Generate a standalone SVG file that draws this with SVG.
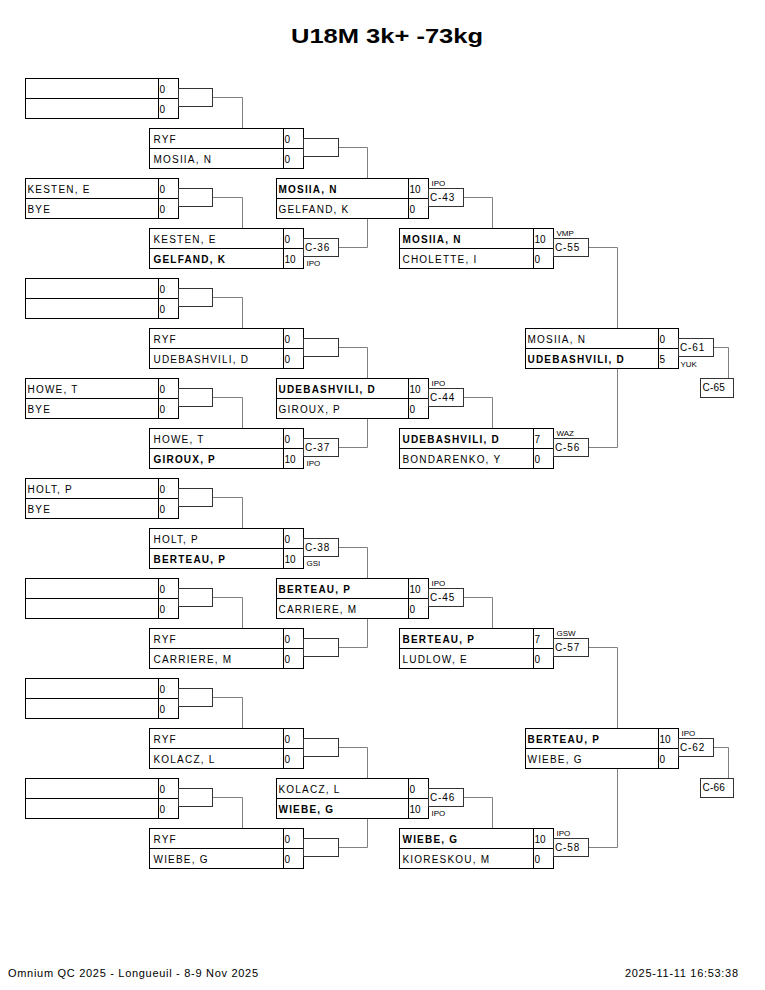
<svg xmlns="http://www.w3.org/2000/svg" width="765" height="990" viewBox="0 0 765 990">
<style>
.box{fill:#fff;stroke:#000;stroke-width:1}
.dv{stroke:#000;stroke-width:1}
.cb{fill:#fff;stroke:#333;stroke-width:1}
.conn{fill:none;stroke:#808080;stroke-width:1}
text{font-family:"Liberation Sans",Arial,sans-serif;fill:#000}
.nm{font-size:10px;letter-spacing:1.2px}
.nb{font-size:10px;letter-spacing:1.2px;font-weight:bold}
.sc{font-size:10px}
.cl{font-size:10px;letter-spacing:0.9px}
.rc{font-size:8px}
.fl{font-size:10px;letter-spacing:0.2px}
.t{transform:translate(0px,-1px)}
</style>
<rect x="0" y="0" width="765" height="990" fill="#fff"/>
<text x="291" y="43" font-size="21" font-weight="bold" textLength="192" lengthAdjust="spacingAndGlyphs">U18M 3k+ -73kg</text>
<g transform="translate(0.5 0.5)">
<g id="connectors">
<path class="conn" d="M212 97H242V128"/>
<path class="conn" d="M212 197H242V228"/>
<path class="conn" d="M212 297H242V328"/>
<path class="conn" d="M212 397H242V428"/>
<path class="conn" d="M212 497H242V528"/>
<path class="conn" d="M212 597H242V628"/>
<path class="conn" d="M212 697H242V728"/>
<path class="conn" d="M212 797H242V828"/>
<path class="conn" d="M338 147H367V178"/>
<path class="conn" d="M338 247H367V218"/>
<path class="conn" d="M338 347H367V378"/>
<path class="conn" d="M338 447H367V418"/>
<path class="conn" d="M338 547H367V578"/>
<path class="conn" d="M338 647H367V618"/>
<path class="conn" d="M338 747H367V778"/>
<path class="conn" d="M338 847H367V818"/>
<path class="conn" d="M463 197H492V228"/>
<path class="conn" d="M463 397H492V428"/>
<path class="conn" d="M463 597H492V628"/>
<path class="conn" d="M463 797H492V828"/>
<path class="conn" d="M588 247H617V328"/>
<path class="conn" d="M588 447H617V368"/>
<path class="conn" d="M588 647H617V728"/>
<path class="conn" d="M588 847H617V768"/>
<path class="conn" d="M713 347H728V378"/>
<path class="conn" d="M713 747H728V778"/>
</g>

<!-- Round 1 -->
<g id="r1m1">
<rect class="box" x="25" y="78" width="153" height="40"/><line class="dv" x1="25" y1="98" x2="178" y2="98"/><line class="dv" x1="158" y1="78" x2="158" y2="118"/>
<rect class="cb" x="178" y="88" width="34" height="18"/>
<g class="t"><text class="sc" x="159" y="93">0</text><text class="sc" x="159" y="113">0</text></g>
</g>
<g id="r1m2">
<rect class="box" x="25" y="178" width="153" height="40"/><line class="dv" x1="25" y1="198" x2="178" y2="198"/><line class="dv" x1="158" y1="178" x2="158" y2="218"/>
<rect class="cb" x="178" y="188" width="34" height="18"/>
<g class="t"><text class="nm" x="27" y="193">KESTEN, E</text><text class="nm" x="27" y="213">BYE</text>
<text class="sc" x="159" y="193">0</text><text class="sc" x="159" y="213">0</text></g>
</g>
<g id="r1m3">
<rect class="box" x="25" y="278" width="153" height="40"/><line class="dv" x1="25" y1="298" x2="178" y2="298"/><line class="dv" x1="158" y1="278" x2="158" y2="318"/>
<rect class="cb" x="178" y="288" width="34" height="18"/>
<g class="t"><text class="sc" x="159" y="293">0</text><text class="sc" x="159" y="313">0</text></g>
</g>
<g id="r1m4">
<rect class="box" x="25" y="378" width="153" height="40"/><line class="dv" x1="25" y1="398" x2="178" y2="398"/><line class="dv" x1="158" y1="378" x2="158" y2="418"/>
<rect class="cb" x="178" y="388" width="34" height="18"/>
<g class="t"><text class="nm" x="27" y="393">HOWE, T</text><text class="nm" x="27" y="413">BYE</text>
<text class="sc" x="159" y="393">0</text><text class="sc" x="159" y="413">0</text></g>
</g>
<g id="r1m5">
<rect class="box" x="25" y="478" width="153" height="40"/><line class="dv" x1="25" y1="498" x2="178" y2="498"/><line class="dv" x1="158" y1="478" x2="158" y2="518"/>
<rect class="cb" x="178" y="488" width="34" height="18"/>
<g class="t"><text class="nm" x="27" y="493">HOLT, P</text><text class="nm" x="27" y="513">BYE</text>
<text class="sc" x="159" y="493">0</text><text class="sc" x="159" y="513">0</text></g>
</g>
<g id="r1m6">
<rect class="box" x="25" y="578" width="153" height="40"/><line class="dv" x1="25" y1="598" x2="178" y2="598"/><line class="dv" x1="158" y1="578" x2="158" y2="618"/>
<rect class="cb" x="178" y="588" width="34" height="18"/>
<g class="t"><text class="sc" x="159" y="593">0</text><text class="sc" x="159" y="613">0</text></g>
</g>
<g id="r1m7">
<rect class="box" x="25" y="678" width="153" height="40"/><line class="dv" x1="25" y1="698" x2="178" y2="698"/><line class="dv" x1="158" y1="678" x2="158" y2="718"/>
<rect class="cb" x="178" y="688" width="34" height="18"/>
<g class="t"><text class="sc" x="159" y="693">0</text><text class="sc" x="159" y="713">0</text></g>
</g>
<g id="r1m8">
<rect class="box" x="25" y="778" width="153" height="40"/><line class="dv" x1="25" y1="798" x2="178" y2="798"/><line class="dv" x1="158" y1="778" x2="158" y2="818"/>
<rect class="cb" x="178" y="788" width="34" height="18"/>
<g class="t"><text class="sc" x="159" y="793">0</text><text class="sc" x="159" y="813">0</text></g>
</g>

<!-- Round 2 -->
<g id="r2m1">
<rect class="box" x="149" y="128" width="154" height="40"/><line class="dv" x1="149" y1="148" x2="303" y2="148"/><line class="dv" x1="283" y1="128" x2="283" y2="168"/>
<rect class="cb" x="303" y="138" width="35" height="18"/>
<g class="t"><text class="nm" x="153" y="143">RYF</text><text class="nm" x="153" y="163">MOSIIA, N</text>
<text class="sc" x="284" y="143">0</text><text class="sc" x="284" y="163">0</text></g>
</g>
<g id="r2m2">
<rect class="box" x="149" y="228" width="154" height="40"/><line class="dv" x1="149" y1="248" x2="303" y2="248"/><line class="dv" x1="283" y1="228" x2="283" y2="268"/>
<rect class="cb" x="303" y="238" width="35" height="18"/>
<g class="t"><text class="nm" x="153" y="243">KESTEN, E</text><text class="nb" x="153" y="263">GELFAND, K</text>
<text class="sc" x="284" y="243">0</text><text class="sc" x="284" y="263">10</text></g>
<text class="cl" x="304.5" y="250">C-36</text><text class="rc" x="306" y="265">IPO</text>
</g>
<g id="r2m3">
<rect class="box" x="149" y="328" width="154" height="40"/><line class="dv" x1="149" y1="348" x2="303" y2="348"/><line class="dv" x1="283" y1="328" x2="283" y2="368"/>
<rect class="cb" x="303" y="338" width="35" height="18"/>
<g class="t"><text class="nm" x="153" y="343">RYF</text><text class="nm" x="153" y="363">UDEBASHVILI, D</text>
<text class="sc" x="284" y="343">0</text><text class="sc" x="284" y="363">0</text></g>
</g>
<g id="r2m4">
<rect class="box" x="149" y="428" width="154" height="40"/><line class="dv" x1="149" y1="448" x2="303" y2="448"/><line class="dv" x1="283" y1="428" x2="283" y2="468"/>
<rect class="cb" x="303" y="438" width="35" height="18"/>
<g class="t"><text class="nm" x="153" y="443">HOWE, T</text><text class="nb" x="153" y="463">GIROUX, P</text>
<text class="sc" x="284" y="443">0</text><text class="sc" x="284" y="463">10</text></g>
<text class="cl" x="304.5" y="450">C-37</text><text class="rc" x="306" y="465">IPO</text>
</g>
<g id="r2m5">
<rect class="box" x="149" y="528" width="154" height="40"/><line class="dv" x1="149" y1="548" x2="303" y2="548"/><line class="dv" x1="283" y1="528" x2="283" y2="568"/>
<rect class="cb" x="303" y="538" width="35" height="18"/>
<g class="t"><text class="nm" x="153" y="543">HOLT, P</text><text class="nb" x="153" y="563">BERTEAU, P</text>
<text class="sc" x="284" y="543">0</text><text class="sc" x="284" y="563">10</text></g>
<text class="cl" x="304.5" y="550">C-38</text><text class="rc" x="306" y="565">GSI</text>
</g>
<g id="r2m6">
<rect class="box" x="149" y="628" width="154" height="40"/><line class="dv" x1="149" y1="648" x2="303" y2="648"/><line class="dv" x1="283" y1="628" x2="283" y2="668"/>
<rect class="cb" x="303" y="638" width="35" height="18"/>
<g class="t"><text class="nm" x="153" y="643">RYF</text><text class="nm" x="153" y="663">CARRIERE, M</text>
<text class="sc" x="284" y="643">0</text><text class="sc" x="284" y="663">0</text></g>
</g>
<g id="r2m7">
<rect class="box" x="149" y="728" width="154" height="40"/><line class="dv" x1="149" y1="748" x2="303" y2="748"/><line class="dv" x1="283" y1="728" x2="283" y2="768"/>
<rect class="cb" x="303" y="738" width="35" height="18"/>
<g class="t"><text class="nm" x="153" y="743">RYF</text><text class="nm" x="153" y="763">KOLACZ, L</text>
<text class="sc" x="284" y="743">0</text><text class="sc" x="284" y="763">0</text></g>
</g>
<g id="r2m8">
<rect class="box" x="149" y="828" width="154" height="40"/><line class="dv" x1="149" y1="848" x2="303" y2="848"/><line class="dv" x1="283" y1="828" x2="283" y2="868"/>
<rect class="cb" x="303" y="838" width="35" height="18"/>
<g class="t"><text class="nm" x="153" y="843">RYF</text><text class="nm" x="153" y="863">WIEBE, G</text>
<text class="sc" x="284" y="843">0</text><text class="sc" x="284" y="863">0</text></g>
</g>

<!-- Round 3 -->
<g id="r3m1">
<rect class="box" x="276" y="178" width="152" height="40"/><line class="dv" x1="276" y1="198" x2="428" y2="198"/><line class="dv" x1="408" y1="178" x2="408" y2="218"/>
<rect class="cb" x="428" y="188" width="35" height="18"/>
<g class="t"><text class="nb" x="278" y="193">MOSIIA, N</text><text class="nm" x="278" y="213">GELFAND, K</text>
<text class="sc" x="409" y="193">10</text><text class="sc" x="409" y="213">0</text></g>
<text class="cl" x="429.5" y="200">C-43</text><text class="rc" x="431" y="185">IPO</text>
</g>
<g id="r3m2">
<rect class="box" x="276" y="378" width="152" height="40"/><line class="dv" x1="276" y1="398" x2="428" y2="398"/><line class="dv" x1="408" y1="378" x2="408" y2="418"/>
<rect class="cb" x="428" y="388" width="35" height="18"/>
<g class="t"><text class="nb" x="278" y="393">UDEBASHVILI, D</text><text class="nm" x="278" y="413">GIROUX, P</text>
<text class="sc" x="409" y="393">10</text><text class="sc" x="409" y="413">0</text></g>
<text class="cl" x="429.5" y="400">C-44</text><text class="rc" x="431" y="385">IPO</text>
</g>
<g id="r3m3">
<rect class="box" x="276" y="578" width="152" height="40"/><line class="dv" x1="276" y1="598" x2="428" y2="598"/><line class="dv" x1="408" y1="578" x2="408" y2="618"/>
<rect class="cb" x="428" y="588" width="35" height="18"/>
<g class="t"><text class="nb" x="278" y="593">BERTEAU, P</text><text class="nm" x="278" y="613">CARRIERE, M</text>
<text class="sc" x="409" y="593">10</text><text class="sc" x="409" y="613">0</text></g>
<text class="cl" x="429.5" y="600">C-45</text><text class="rc" x="431" y="585">IPO</text>
</g>
<g id="r3m4">
<rect class="box" x="276" y="778" width="152" height="40"/><line class="dv" x1="276" y1="798" x2="428" y2="798"/><line class="dv" x1="408" y1="778" x2="408" y2="818"/>
<rect class="cb" x="428" y="788" width="35" height="18"/>
<g class="t"><text class="nm" x="278" y="793">KOLACZ, L</text><text class="nb" x="278" y="813">WIEBE, G</text>
<text class="sc" x="409" y="793">0</text><text class="sc" x="409" y="813">10</text></g>
<text class="cl" x="429.5" y="800">C-46</text><text class="rc" x="431" y="815">IPO</text>
</g>

<!-- Round 4 -->
<g id="r4m1">
<rect class="box" x="399" y="228" width="154" height="40"/><line class="dv" x1="399" y1="248" x2="553" y2="248"/><line class="dv" x1="533" y1="228" x2="533" y2="268"/>
<rect class="cb" x="553" y="238" width="35" height="18"/>
<g class="t"><text class="nb" x="402" y="243">MOSIIA, N</text><text class="nm" x="402" y="263">CHOLETTE, I</text>
<text class="sc" x="534" y="243">10</text><text class="sc" x="534" y="263">0</text></g>
<text class="cl" x="554.5" y="250">C-55</text><text class="rc" x="556" y="235">VMP</text>
</g>
<g id="r4m2">
<rect class="box" x="399" y="428" width="154" height="40"/><line class="dv" x1="399" y1="448" x2="553" y2="448"/><line class="dv" x1="533" y1="428" x2="533" y2="468"/>
<rect class="cb" x="553" y="438" width="35" height="18"/>
<g class="t"><text class="nb" x="402" y="443">UDEBASHVILI, D</text><text class="nm" x="402" y="463">BONDARENKO, Y</text>
<text class="sc" x="534" y="443">7</text><text class="sc" x="534" y="463">0</text></g>
<text class="cl" x="554.5" y="450">C-56</text><text class="rc" x="556" y="435">WAZ</text>
</g>
<g id="r4m3">
<rect class="box" x="399" y="628" width="154" height="40"/><line class="dv" x1="399" y1="648" x2="553" y2="648"/><line class="dv" x1="533" y1="628" x2="533" y2="668"/>
<rect class="cb" x="553" y="638" width="35" height="18"/>
<g class="t"><text class="nb" x="402" y="643">BERTEAU, P</text><text class="nm" x="402" y="663">LUDLOW, E</text>
<text class="sc" x="534" y="643">7</text><text class="sc" x="534" y="663">0</text></g>
<text class="cl" x="554.5" y="650">C-57</text><text class="rc" x="556" y="635">GSW</text>
</g>
<g id="r4m4">
<rect class="box" x="399" y="828" width="154" height="40"/><line class="dv" x1="399" y1="848" x2="553" y2="848"/><line class="dv" x1="533" y1="828" x2="533" y2="868"/>
<rect class="cb" x="553" y="838" width="35" height="18"/>
<g class="t"><text class="nb" x="402" y="843">WIEBE, G</text><text class="nm" x="402" y="863">KIORESKOU, M</text>
<text class="sc" x="534" y="843">10</text><text class="sc" x="534" y="863">0</text></g>
<text class="cl" x="554.5" y="850">C-58</text><text class="rc" x="556" y="835">IPO</text>
</g>

<!-- Round 5 -->
<g id="r5m1">
<rect class="box" x="525" y="328" width="153" height="40"/><line class="dv" x1="525" y1="348" x2="678" y2="348"/><line class="dv" x1="658" y1="328" x2="658" y2="368"/>
<rect class="cb" x="678" y="338" width="35" height="18"/>
<g class="t"><text class="nm" x="527" y="343">MOSIIA, N</text><text class="nb" x="527" y="363">UDEBASHVILI, D</text>
<text class="sc" x="659" y="343">0</text><text class="sc" x="659" y="363">5</text></g>
<text class="cl" x="679.5" y="350">C-61</text><text class="rc" x="680" y="366">YUK</text>
</g>
<g id="r5m2">
<rect class="box" x="525" y="728" width="153" height="40"/><line class="dv" x1="525" y1="748" x2="678" y2="748"/><line class="dv" x1="658" y1="728" x2="658" y2="768"/>
<rect class="cb" x="678" y="738" width="35" height="18"/>
<g class="t"><text class="nb" x="527" y="743">BERTEAU, P</text><text class="nm" x="527" y="763">WIEBE, G</text>
<text class="sc" x="659" y="743">10</text><text class="sc" x="659" y="763">0</text></g>
<text class="cl" x="679.5" y="750">C-62</text><text class="rc" x="681" y="735">IPO</text>
</g>

<!-- Next matches -->
<g id="c65">
<rect class="cb" x="700" y="378" width="33" height="19"/>
<text class="fl" x="702" y="390">C-65</text>
</g>
<g id="c66">
<rect class="cb" x="700" y="778" width="33" height="19"/>
<text class="fl" x="702" y="790">C-66</text>
</g>
</g>

<text x="8" y="977" font-size="11" textLength="250" lengthAdjust="spacing">Omnium QC 2025 - Longueuil - 8-9 Nov 2025</text>
<text x="625" y="977" font-size="11" textLength="113" lengthAdjust="spacing">2025-11-11 16:53:38</text>
</svg>
